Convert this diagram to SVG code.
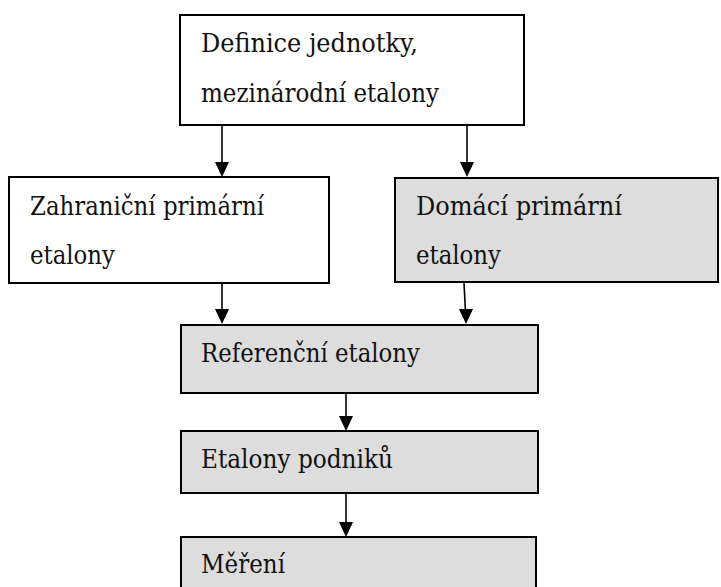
<svg xmlns="http://www.w3.org/2000/svg" width="721" height="587" viewBox="0 0 721 587">
<style>
.box{stroke:#000;stroke-width:2}
.w{fill:#fff}
.g{fill:#dddddd}
.t{font-family:"DejaVu Serif",serif;font-size:26px;fill:#111}
.c{stroke:#000;stroke-width:1.6;fill:none}
.h{fill:#000;stroke:none}
</style>
<rect width="721" height="587" fill="#fff"/>
<g id="connectors">
<path class="c" d="M222,125 L222,165"/>
<path class="h" d="M215,162 L229,162 L222,177 z"/>
<path class="c" d="M467,125 L467,165"/>
<path class="h" d="M460,162 L474,162 L467,177 z"/>
<path class="c" d="M222,283 L222,312"/>
<path class="h" d="M215,309 L229,309 L222,324 z"/>
<path class="c" d="M464,283 L465.5,312"/>
<path class="h" d="M459,309 L473,309 L466,324 z"/>
<path class="c" d="M346,393 L346,419"/>
<path class="h" d="M339,416 L353,416 L346,431 z"/>
<path class="c" d="M346,493 L346,525"/>
<path class="h" d="M339,522 L353,522 L346,537 z"/>
</g>
<g id="definice">
<rect class="box w" x="180" y="15" width="344" height="110"/>
<text class="t" x="201" y="52" textLength="217" lengthAdjust="spacingAndGlyphs">Definice jednotky,</text>
<text class="t" x="201" y="102" textLength="238" lengthAdjust="spacingAndGlyphs">mezinárodní etalony</text>
</g>
<g id="zahranicni">
<rect class="box w" x="9" y="177" width="320" height="106"/>
<text class="t" x="30" y="215" textLength="234" lengthAdjust="spacingAndGlyphs">Zahraniční primární</text>
<text class="t" x="30" y="264" textLength="85" lengthAdjust="spacingAndGlyphs">etalony</text>
</g>
<g id="domaci">
<rect class="box g" x="395" y="178" width="323" height="104"/>
<text class="t" x="416" y="215" textLength="206" lengthAdjust="spacingAndGlyphs">Domácí primární</text>
<text class="t" x="416" y="264" textLength="85" lengthAdjust="spacingAndGlyphs">etalony</text>
</g>
<g id="referencni">
<rect class="box g" x="181" y="325" width="357" height="68"/>
<text class="t" x="201" y="362" textLength="219" lengthAdjust="spacingAndGlyphs">Referenční etalony</text>
</g>
<g id="podniku">
<rect class="box g" x="181" y="431" width="357" height="62"/>
<text class="t" x="201" y="468" textLength="192" lengthAdjust="spacingAndGlyphs">Etalony podniků</text>
</g>
<g id="mereni">
<rect class="box g" x="181" y="537" width="355" height="60"/>
<text class="t" x="201" y="573" textLength="84" lengthAdjust="spacingAndGlyphs">Měření</text>
</g>
</svg>
